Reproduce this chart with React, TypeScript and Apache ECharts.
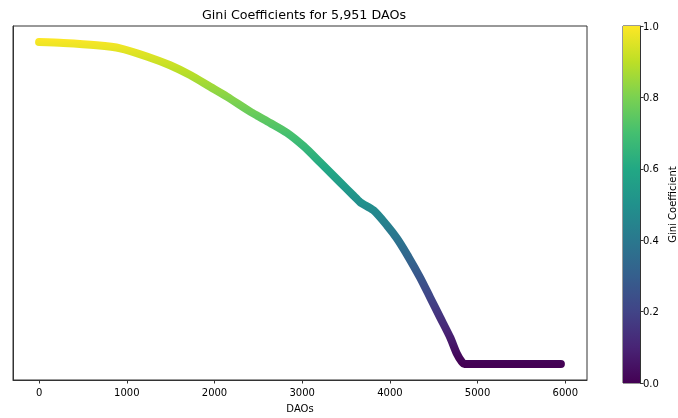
import React, { useEffect, useRef } from "react";
import * as echarts from "echarts";

// Sorted Gini coefficients (rank index -> value)
const daoRank = [0, 277, 658, 924, 1228, 1494, 1722, 1950, 2141, 2407, 2635, 2825, 3015, 3205, 3433, 3585, 3661, 3813, 3966, 4080, 4194, 4346, 4460, 4574, 4688, 4764, 4821, 4850, 5950];
const giniValue = [0.987, 0.984, 0.977, 0.968, 0.943, 0.916, 0.886, 0.850, 0.820, 0.774, 0.739, 0.709, 0.668, 0.618, 0.557, 0.516, 0.496, 0.471, 0.425, 0.385, 0.336, 0.264, 0.203, 0.142, 0.081, 0.031, 0.006, 0.0, 0.0];

const xTicks = [0, 1000, 2000, 3000, 4000, 5000, 6000];
const viridis = ["#440154", "#482475", "#414487", "#355f8d", "#2a788e", "#21918c", "#22a884", "#44bf70", "#7ad151", "#bddf26", "#fde725"];

export default function App() {
  const ref = useRef<HTMLDivElement>(null);
  useEffect(() => {
    if (!ref.current) return;
    const chart = echarts.init(ref.current, null, { renderer: "svg" });
    const font = "DejaVu Sans";
    const n = daoRank[daoRank.length - 1];
    const ymax = Math.max(...giniValue);
    const data = daoRank.map((x, i) => [x, giniValue[i]]);
    chart.setOption({
      animation: false,
      textStyle: { fontFamily: font },
      title: {
        text: "Gini Coefficients for 5,951 DAOs",
        left: 299,
        textAlign: "center",
        top: 3,
        textStyle: { fontFamily: font, fontSize: 12.7, fontWeight: "normal", color: "#000" },
      },
      grid: [
        { left: 13, right: 91, top: 26, bottom: 35, show: true, borderColor: "#333", borderWidth: 1, backgroundColor: "transparent" },
        { left: 623, width: 19, top: 26, bottom: 35, show: true, borderColor: "#333", borderWidth: 1, backgroundColor: "transparent" },
      ],
      xAxis: [
        {
          type: "value",
          gridIndex: 0,
          min: -0.05 * n,
          max: 1.05 * n,
          name: "DAOs",
          nameLocation: "middle",
          nameGap: 23,
          nameTextStyle: { fontFamily: font, fontSize: 10, color: "#000" },
          axisLine: { show: true, onZero: false, lineStyle: { color: "#333", width: 1 } },
          axisTick: { show: true, length: 3.5, lineStyle: { color: "#333" }, customValues: xTicks },
          axisLabel: { fontFamily: font, fontSize: 10, color: "#000", margin: 7, customValues: xTicks, formatter: (v: number) => String(v) },
          splitLine: { show: false },
        },
        {
          type: "category",
          gridIndex: 1,
          data: ["c"],
          show: false,
        },
      ],
      yAxis: [
        {
          type: "value",
          gridIndex: 0,
          min: -0.05 * ymax,
          max: 1.05 * ymax,
          axisLine: { show: true, onZero: false, lineStyle: { color: "#333" } },
          axisTick: { show: false },
          axisLabel: { show: false },
          splitLine: { show: false },
        },
        {
          type: "value",
          gridIndex: 1,
          position: "right",
          min: 0,
          max: 1,
          interval: 0.2,
          name: "Gini Coefficient",
          nameLocation: "middle",
          nameRotate: 90,
          nameGap: 27,
          nameTextStyle: { fontFamily: font, fontSize: 10, color: "#000" },
          axisLine: { show: true, onZero: false, lineStyle: { color: "#333" } },
          axisTick: { show: true, length: 3.5, lineStyle: { color: "#333" } },
          axisLabel: { fontFamily: font, fontSize: 10, color: "#000", margin: 3, formatter: (v: number) => v.toFixed(1) },
          splitLine: { show: false },
        },
      ],
      visualMap: {
        type: "continuous",
        show: false,
        seriesIndex: 0,
        dimension: 1,
        min: 0,
        max: 1,
        inRange: { color: viridis },
      },
      series: [
        {
          type: "line",
          xAxisIndex: 0,
          yAxisIndex: 0,
          data,
          symbol: "none",
          smooth: 0.25,
          lineStyle: { width: 8, cap: "round", join: "round" },
        },
        {
          type: "bar",
          xAxisIndex: 1,
          yAxisIndex: 1,
          data: [1],
          barWidth: "100%",
          itemStyle: {
            color: new echarts.graphic.LinearGradient(0, 1, 0, 0, viridis.map((c, i) => ({ offset: i / (viridis.length - 1), color: c }))),
          },
        },
      ],
    });
    return () => chart.dispose();
  }, []);
  return <div ref={ref} style={{ position: "fixed", left: 0, top: 0, width: 678, height: 418 }} />;
}
